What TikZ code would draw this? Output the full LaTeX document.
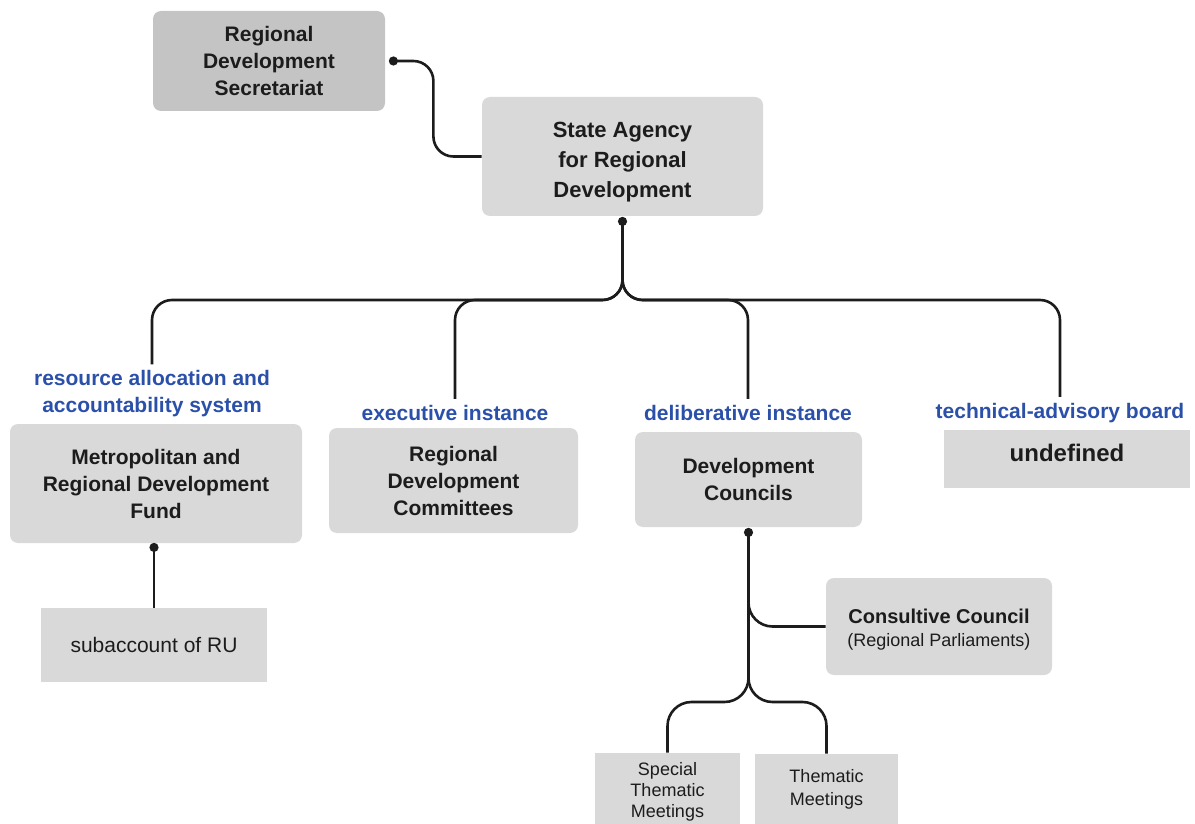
\documentclass[tikz,border=0pt]{standalone}
\usepackage{fontspec}
\setmainfont{Liberation Sans}
\usetikzlibrary{calc}
\definecolor{boxgray}{HTML}{D9D9D9}
\definecolor{secgray}{HTML}{C4C4C4}
\definecolor{lblue}{HTML}{2B50AA}
\definecolor{ink}{HTML}{1C1C1C}
\begin{document}
\begin{tikzpicture}[x=0.5pt,y=-0.5pt,
  box/.style={fill=boxgray, rounded corners=4pt, align=center, inner sep=0pt, text=ink},
  sqbox/.style={box, sharp corners},
  bt/.style={font=\bfseries\fontsize{10.5}{13.5}\selectfont},
  txt/.style={align=center, inner sep=0pt, text=ink},
  lab/.style={text=lblue, font=\bfseries\fontsize{10.5}{13.5}\selectfont, align=center, inner xsep=0pt, inner ysep=3pt},
  conn/.style={line width=1.3pt, draw=ink, rounded corners=10pt},
  dotc/.style={fill=ink}]
\useasboundingbox (0,0) rectangle (1195,824);
\clip (0,0) rectangle (1195,824);

% boxes
\node[box, fill=secgray, bt, minimum width=116pt, minimum height=50pt] (sec) at (269,61) {Regional\\Development\\Secretariat};
\node[box, minimum width=140.5pt, minimum height=59.5pt] (agency) at (622.5,156.5) {};
\node[txt, font=\bfseries\fontsize{11}{15}\selectfont] (agencytext) at ([yshift=-3pt]agency.center) {State Agency\\for Regional\\Development};

\node[box, bt, minimum width=146pt, minimum height=59.5pt] (metro) at (156,483.5) {Metropolitan and\\Regional Development\\Fund};
\node[box, bt, minimum width=124.5pt, minimum height=52.5pt] (comm) at (453.5,480.5) {Regional\\Development\\Committees};
\node[box, bt, minimum width=113.5pt, minimum height=47.5pt] (dc) at (748.5,479.5) {Development\\Councils};
\node[sqbox, font=\bfseries\fontsize{12}{14}\selectfont, minimum width=123pt, minimum height=29pt, text depth=6pt] (undef) at (1067,459) {undefined};

\node[sqbox, font=\fontsize{10.5}{13}\selectfont, minimum width=113pt, minimum height=37pt] (sub) at (154,645) {subaccount of RU};
\node[box, minimum width=113pt, minimum height=48.5pt] (cc) at (939,626.5) {};
\node[txt] (cctext) at ([yshift=-1.5pt]cc.center) {{\bfseries\fontsize{10}{12}\selectfont Consultive Council}\\[-0.5pt]{\fontsize{9}{12}\selectfont (Regional Parliaments)}};

\node[sqbox, font=\fontsize{9}{10.5}\selectfont, minimum width=72.5pt, minimum height=39pt] (spec) at (667.5,792) {Special\\Thematic\\Meetings};
\node[sqbox, font=\fontsize{9}{11.5}\selectfont, minimum width=71.5pt, minimum height=35pt] (them) at (826.5,789) {Thematic\\Meetings};

% labels
\node[lab] (lab1) at (152,394) {resource allocation and\\accountability system};
\node[lab] (lab2) at (455,413) {executive instance};
\node[lab] (lab3) at (748,413) {deliberative instance};
\node[lab] (lab4) at (1060,413) {technical-advisory board};

% connectors
\coordinate (secdot) at ([xshift=4pt]sec.east);
\draw[conn] (secdot) -- ++(40,0) |- (agency.west);
\fill[dotc] (secdot) circle (2.3pt);

\coordinate (agdot) at ([yshift=-2.5pt]agency.south);
\coordinate (bar) at (0,300);
\draw[conn] (agdot) |- (lab1.north |- bar) -- (lab1.north);
\draw[conn] (agdot) |- (lab2.north |- bar) -- (lab2.north);
\draw[conn] (agdot) |- (lab3.north |- bar) -- (lab3.north);
\draw[conn] (agdot) |- (lab4.north |- bar) -- (lab4.north);
\fill[dotc] (agdot) circle (2.3pt);

\coordinate (mdot) at ([yshift=-2pt]metro.south -| sub.north);
\draw[conn] (mdot) -- (sub.north);
\fill[dotc] (mdot) circle (2.3pt);

\coordinate (dcdot) at ([yshift=-2.5pt]dc.south);
\coordinate (bar2) at (0,702);
\draw[conn, rounded corners=12pt] (dcdot) |- (cc.west);
\draw[conn, rounded corners=12pt] (dcdot) |- (spec.north |- bar2) -- (spec.north);
\draw[conn, rounded corners=12pt] (dcdot) |- (them.north |- bar2) -- (them.north);
\fill[dotc] (dcdot) circle (2.3pt);
\end{tikzpicture}
\end{document}
